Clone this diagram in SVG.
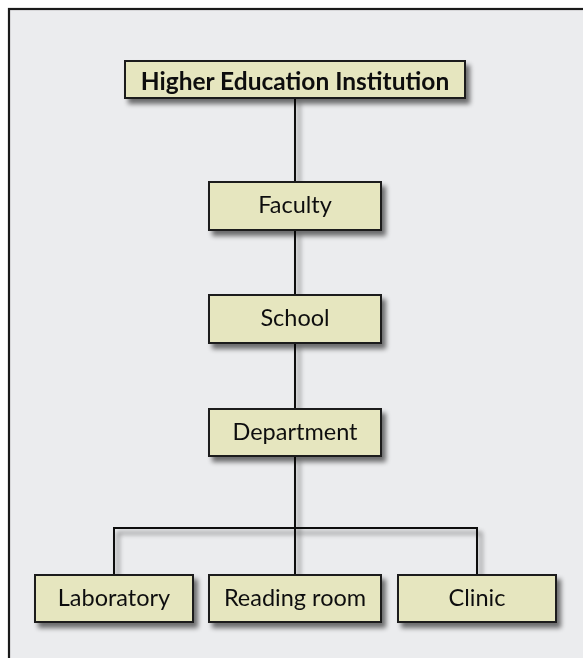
<svg xmlns="http://www.w3.org/2000/svg" width="583" height="658" viewBox="0 0 583 658">
<defs>
<filter id="sh" x="-20%" y="-20%" width="150%" height="160%">
<feGaussianBlur in="SourceAlpha" stdDeviation="2.5"/>
<feOffset dx="4" dy="5" result="b"/>
<feComponentTransfer><feFuncA type="linear" slope="0.55"/></feComponentTransfer>
<feMerge><feMergeNode/><feMergeNode in="SourceGraphic"/></feMerge>
</filter>
</defs>
<style>
.box{fill:#e6e6bf;stroke:#1a1a1a;stroke-width:2}
.t{font-family:Lato,"Open Sans",sans-serif;font-size:23.5px;fill:#111;text-anchor:middle}
.b{font-weight:bold;font-size:24.5px}
.c{stroke:#111;stroke-width:2;fill:none}
</style>
<rect x="0" y="0" width="583" height="658" fill="#ffffff"/>
<rect x="9" y="9" width="590" height="670" fill="#ebecee" stroke="#1a1a1a" stroke-width="2.2"/>
<g id="connectors" filter="url(#sh)">
<path class="c" d="M295 98V182M295 230V295M295 343V409M295 456V575M114 575V528H477V575"/>
</g>
<g id="n-hei" filter="url(#sh)"><rect class="box" x="125" y="61" width="340" height="37"/><text class="t b" x="295" y="90">Higher Education Institution</text></g>
<g id="n-faculty" filter="url(#sh)"><rect class="box" x="209" y="182" width="172" height="48"/><text class="t" x="295" y="213">Faculty</text></g>
<g id="n-school" filter="url(#sh)"><rect class="box" x="209" y="295" width="172" height="48"/><text class="t" x="295" y="326">School</text></g>
<g id="n-department" filter="url(#sh)"><rect class="box" x="209" y="409" width="172" height="47"/><text class="t" x="295" y="440">Department</text></g>
<g id="n-lab" filter="url(#sh)"><rect class="box" x="35" y="575" width="158" height="47"/><text class="t" x="114" y="606">Laboratory</text></g>
<g id="n-reading" filter="url(#sh)"><rect class="box" x="209" y="575" width="172" height="47"/><text class="t" x="295" y="606">Reading room</text></g>
<g id="n-clinic" filter="url(#sh)"><rect class="box" x="398" y="575" width="158" height="47"/><text class="t" x="477" y="606">Clinic</text></g>
</svg>
